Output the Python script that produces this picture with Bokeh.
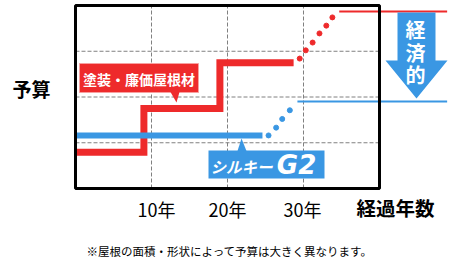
from bokeh.plotting import figure
from bokeh.models import Range1d
from bokeh.core.properties import value
from bokeh.embed import file_html
from bokeh.resources import INLINE

# ---- data (years on x, budget units on y) ----
red_step_x = [0, 9, 9, 19, 19, 28.7]
red_step_y = [0.79, 0.79, 1.75, 1.75, 2.75, 2.75]
red_dot_x = [29.5, 30.3, 31.2, 32.1, 33.0, 33.8]
red_dot_y = [2.84, 3.02, 3.19, 3.39, 3.56, 3.74]
red_after_x = [34.7, 48.9]
red_after_y = [3.87, 3.87]

blue_x = [0, 24.6]
blue_y = [1.16, 1.16]
blue_dot_x = [25.4, 26.4, 27.2, 28.2]
blue_dot_y = [1.16, 1.33, 1.52, 1.71]
blue_after_x = [29.2, 48.9]
blue_after_y = [1.90, 1.90]

tick_years = [10, 20, 30]
tick_labels = ["10年", "20年", "30年"]
grid_y = [1, 2, 3]
x_max = 40
y_max = 4

RED = "#ee2a2b"
BLUE = "#3a97e3"
JP = value("Noto Sans CJK JP")

# pixel helpers for annotation placement
X0, SX = 75.0, 7.6
Y0, SY = 188.0, 45.75
def X(px):
    return (px - X0) / SX
def Y(py):
    return (Y0 - py) / SY

p = figure(width=462, height=270, output_backend="svg", toolbar_location=None,
           x_range=Range1d(X(0), X(462)), y_range=Range1d(Y(270), Y(0)),
           min_border=0)
p.axis.visible = False
p.grid.visible = False
p.outline_line_color = None
p.background_fill_color = "white"
p.border_fill_color = "white"

# grid
p.segment(x0=tick_years, x1=tick_years, y0=[0]*3, y1=[y_max]*3,
          line_color="#808080", line_width=1, line_dash="4 2")
p.segment(x0=[0]*3, x1=[x_max]*3, y0=grid_y, y1=grid_y,
          line_color="#808080", line_width=1, line_dash="4 2")

# red series
p.line(red_step_x, red_step_y, line_color=RED, line_width=7, line_join="miter")
p.scatter(red_dot_x, red_dot_y, size=5, color=RED)
p.line(red_after_x, red_after_y, line_color=RED, line_width=2)

# blue series
p.line(blue_x, blue_y, line_color=BLUE, line_width=6)
p.scatter(blue_dot_x, blue_dot_y, size=5, color=BLUE)
p.line(blue_after_x, blue_after_y, line_color=BLUE, line_width=2)

# frame
p.quad(left=0, right=x_max, bottom=0, top=y_max, fill_color=None,
       line_color="black", line_width=3)

# red callout
p.quad(left=X(79), right=X(198), bottom=Y(92), top=Y(63), fill_color=RED,
       line_color="#f7a0a0", line_width=1)
p.patch([X(170), X(179), X(176)], [Y(91.5), Y(91.5), Y(102)], fill_color=RED,
        line_color=None)
p.text(x=[X(138.5)], y=[Y(78.5)], text=["塗装・廉価屋根材"], text_color="white",
       text_font=JP, text_font_style="bold", text_font_size="14px",
       text_align="center", text_baseline="middle")

# blue callout
p.quad(left=X(208), right=X(324), bottom=Y(178), top=Y(150), fill_color=BLUE,
       line_color=None)
p.patch([X(237), X(246), X(241)], [Y(150.5), Y(150.5), Y(138)], fill_color=BLUE,
        line_color=None)
p.text(x=[X(210)], y=[Y(165)], text=["シルキー"], text_color="white",
       text_font=JP, text_font_style="bold italic", text_font_size="15.5px",
       text_align="left", text_baseline="middle")
p.text(x=[X(296)], y=[Y(164)], text=["G2"], text_color="white",
       text_font=value("DejaVu Sans"), text_font_style="bold italic",
       text_font_size="26px", text_align="center", text_baseline="middle")

# arrow
ax = [X(397), X(435), X(435), X(447), X(416), X(385), X(397)]
ay = [Y(12), Y(12), Y(60), Y(60), Y(98), Y(60), Y(60)]
p.patch(ax, ay, fill_color=BLUE, line_color=None)
p.text(x=[X(415)] * 3, y=[Y(29), Y(52), Y(74)], text=["経", "済", "的"],
       text_color="white", text_font=JP, text_font_style="bold",
       text_font_size="20px", text_align="center", text_baseline="middle")

# axis texts
p.text(x=[X(31)], y=[Y(88)], text=["予算"], text_color="black", text_font=JP,
       text_font_style="bold", text_font_size="19px", text_align="center",
       text_baseline="middle")
p.text(x=[X(156)], y=[Y(208)], text=[tick_labels[0]],
       text_color="black", text_font=JP, text_font_size="18px",
       text_align="center", text_baseline="middle")
p.text(x=[X(227), X(302)], y=[Y(208)] * 2, text=tick_labels[1:],
       text_color="black", text_font=JP, text_font_size="18px",
       text_align="center", text_baseline="middle")
p.text(x=[X(395)], y=[Y(207)], text=["経過年数"], text_color="black", text_font=JP,
       text_font_style="bold", text_font_size="19.5px", text_align="center",
       text_baseline="middle")
p.text(x=[X(86)], y=[Y(250)], text=["※屋根の面積・形状によって予算は大きく異なります。"],
       text_color="black", text_font=JP, text_font_size="11.5px",
       text_align="left", text_baseline="middle")

open("out.html", "w").write(file_html(p, INLINE))
